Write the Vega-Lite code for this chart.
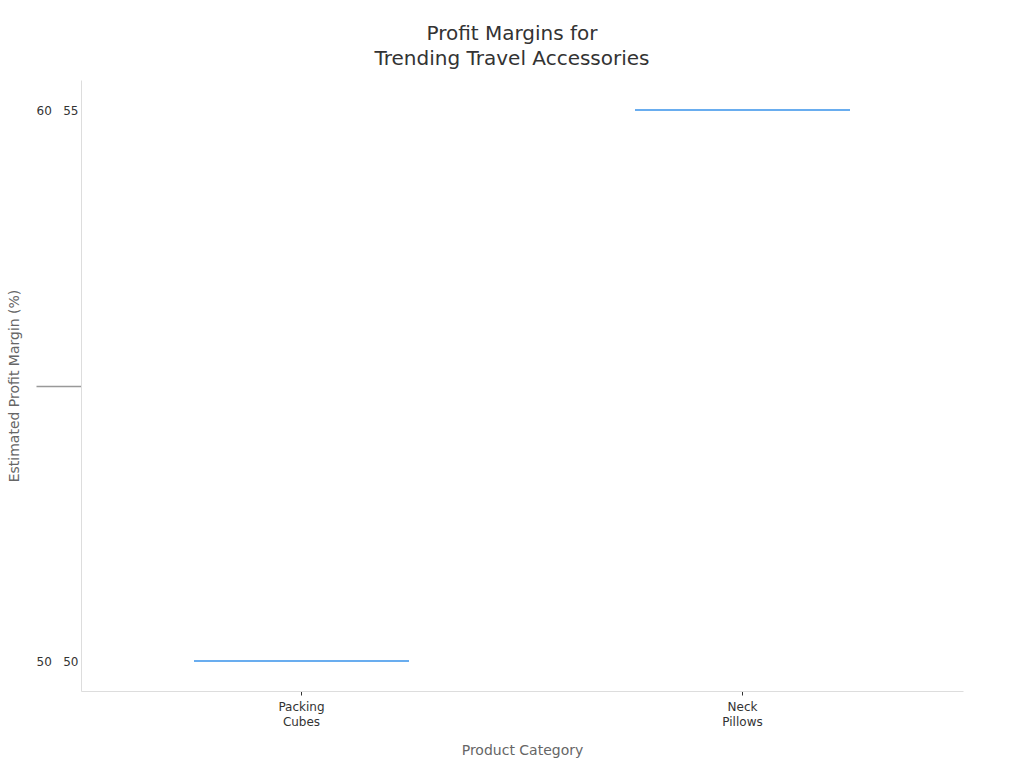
{
  "$schema": "https://vega.github.io/schema/vega-lite/v6.json",
  "description": "Profit margins for trending travel accessories",
  "autosize": {"type": "none"},
  "padding": {"left": 81, "top": 80, "right": 61, "bottom": 77},
  "width": 882,
  "height": 611,
  "background": "white",
  "title": {
    "text": ["Profit Margins for", "Trending Travel Accessories"],
    "font": "DejaVu Sans",
    "fontSize": 20,
    "fontWeight": "normal",
    "color": "#333333",
    "lineHeight": 25,
    "anchor": "middle",
    "dx": -10,
    "offset": 11
  },
  "config": {
    "view": {"stroke": null},
    "axis": {"labelFont": "DejaVu Sans", "titleFont": "DejaVu Sans"}
  },
  "data": {
    "values": [
      {"category": "Packing Cubes", "margin": 50},
      {"category": "Neck Pillows", "margin": 55}
    ]
  },
  "mark": {"type": "tick", "color": "#2a8ae8", "thickness": 2.2, "size": 215},
  "encoding": {
    "x": {
      "field": "category",
      "type": "nominal",
      "sort": null,
      "scale": {"paddingInner": 0, "paddingOuter": 0},
      "title": "Product Category",
      "axis": {
        "labelAngle": 0,
        "labelExpr": "split(datum.label, ' ')",
        "labelFontSize": 12,
        "labelColor": "#333333",
        "labelLineHeight": 15,
        "labelPadding": 6,
        "domainColor": "#dddddd",
        "tickColor": "#333333",
        "tickSize": 4,
        "titleFontSize": 14,
        "titleFontWeight": "normal",
        "titleColor": "#666666",
        "titlePadding": 16
      }
    },
    "y": {
      "field": "margin",
      "type": "quantitative",
      "scale": {"domain": [50, 55], "zero": false, "nice": false, "padding": 30},
      "title": "Estimated Profit Margin (%)",
      "axis": {
        "values": [50, 52.5, 55],
        "labelExpr": "datum.value == 55 ? '60\u00a0\u00a0\u00a055' : datum.value == 50 ? '50\u00a0\u00a0\u00a050' : ''",
        "labelFontSize": 12,
        "labelColor": "#333333",
        "labelPadding": -42,
        "grid": false,
        "domainColor": "#dddddd",
        "tickSize": 45,
        "tickColor": "#999999",
        "tickWidth": 1.5,
        "tickOpacity": {"condition": {"test": "datum.value == 52.5", "value": 1}, "value": 0},
        "titleFontSize": 14,
        "titleFontWeight": "normal",
        "titleColor": "#666666",
        "titlePadding": 14
      }
    }
  }
}
